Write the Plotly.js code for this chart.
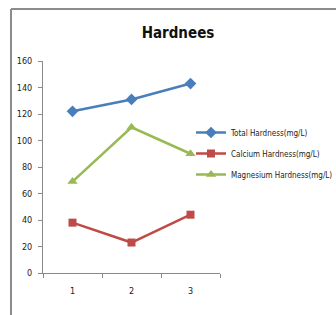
<!DOCTYPE html>
<html><head><meta charset="utf-8">
<script src="https://cdn.plot.ly/plotly-3.0.1.min.js"></script>
<style>html,body{margin:0;padding:0;background:#fff}#c{width:336px;height:315px}</style>
</head><body><div id="c"></div>
<script>
const categories = [1, 2, 3];
const totalHardness = [122, 131, 143];
const calciumHardness = [38, 23, 44];
const magnesiumHardness = [69, 110, 90];
const seriesNames = ["Total Hardness(mg/L)", "Calcium Hardness(mg/L)", "Magnesium Hardness(mg/L)"];
const yTicks = [0, 20, 40, 60, 80, 100, 120, 140, 160];

const narrow = '"DejaVu Sans Condensed", "Liberation Sans Narrow", Arial, sans-serif';
function tr(name, y, color, symbol, size, g) {
  return {x: categories.map(String), y: y, name: name, type: 'scatter', mode: 'lines+markers',
    line: {color: color, width: 2.5}, marker: {symbol: symbol, size: size, color: color},
    legendgroup: g};
}
const data = [
  tr(seriesNames[0], totalHardness, '#4A7EBB', 'diamond', 9, 'a'),
  tr(seriesNames[1], calciumHardness, '#BE4B48', 'square', 8, 'b'),
  tr(seriesNames[2], magnesiumHardness, '#98B954', 'triangle-up', 9, 'c')
];
const L = 43, R = 220, T = 61, B = 273;
const W = R - L, H = B - T;
const px = p => (p - L) / W, py = p => (B - p) / H;
const layout = {
  width: 336, height: 315,
  margin: {l: L, r: 336 - R, t: T, b: 315 - B, autoexpand: false},
  paper_bgcolor: '#fff', plot_bgcolor: '#fff',
  title: {text: '<b>Hardnees</b>', font: {family: narrow, size: 15, color: '#111'}, xref: 'container', x: 178/336, xanchor: 'center', yref: 'container', y: 1 - 33/315, yanchor: 'middle'},
  xaxis: {type: 'category', range: [-0.5, 2.5], showline: true, linecolor: '#8a8a8a', linewidth: 1,
    ticks: 'outside', tickson: 'boundaries', ticklen: 4, tickcolor: '#8a8a8a', showgrid: false, zeroline: false,
    ticklabelstandoff: 9,
    tickfont: {family: narrow, size: 9, color: '#222'}, fixedrange: true, automargin: false},
  yaxis: {range: [0, 160], tickvals: yTicks, showline: true, linecolor: '#8a8a8a', linewidth: 1,
    ticks: 'outside', ticklen: 4, tickcolor: '#8a8a8a', showgrid: false, zeroline: false,
    ticklabelstandoff: 4,
    tickfont: {family: narrow, size: 9, color: '#222'}, fixedrange: true, automargin: false},
  legend: {x: px(191), xanchor: 'left', y: py(118), yanchor: 'top', font: {family: narrow, size: 8, color: '#222'},
    bgcolor: 'rgba(0,0,0,0)', tracegroupgap: 2, itemwidth: 30},
  showlegend: true,
  shapes: [
    {type: 'line', xref: 'paper', yref: 'paper', x0: px(11), x1: px(11), y0: py(320), y1: py(9), line: {color: '#8c8c8c', width: 2}},
    {type: 'line', xref: 'paper', yref: 'paper', x0: px(11), x1: px(340), y0: py(9), y1: py(9), line: {color: '#8c8c8c', width: 2}}
  ]
};
Plotly.newPlot('c', data, layout, {staticPlot: true});
</script></body></html>
